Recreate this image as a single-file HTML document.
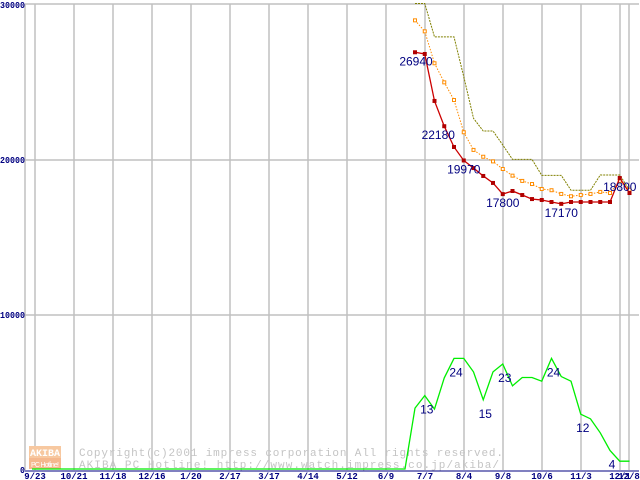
<!DOCTYPE html>
<html><head><meta charset="utf-8"><style>
html,body{margin:0;padding:0;background:#fff;}
svg{display:block;}
</style></head><body>
<svg id="chart" width="640" height="480" viewBox="0 0 640 480" xmlns="http://www.w3.org/2000/svg">
<g id="grid"></g>
<g id="watermark">
  <rect x="29" y="446" width="32" height="12" fill="#f7c8a0"/>
  <rect x="29" y="458" width="32" height="11" fill="#f5b88e"/>
  <text x="30" y="456" font-family="Liberation Mono, monospace" font-size="10" font-weight="bold" fill="#fff" textLength="30">AKIBA</text>
  <text x="31" y="467" font-family="Liberation Sans, sans-serif" font-size="7" fill="#fff" textLength="28">PC Hotline!</text>
  <text x="79" y="456" font-family="Liberation Mono, monospace" font-size="11" fill="#c4c4c4" textLength="424">Copyright(c)2001 impress corporation All rights reserved.</text>
  <text x="79" y="468" font-family="Liberation Mono, monospace" font-size="11" fill="#c4c4c4" textLength="420">AKIBA PC Hotline!  http://www.watch.impress.co.jp/akiba/</text>
</g>
<g id="series"></g>
<g id="axes"></g>
</svg>
<script>
const xLabels = ["9/23","10/21","11/18","12/16","1/20","2/17","3/17","4/14","5/12","6/9","7/7","8/4","9/8","10/6","11/3","12/1","12/8"];
const yTicks = [0,10000,20000,30000];
const minPrice = [26950,26840,23810,22180,20840,19970,19480,18970,18520,17800,18000,17740,17480,17420,17290,17170,17290,17290,17290,17290,17290,18840,17870];
const avgPrice = [29010,28300,26240,25010,23870,21790,20650,20210,19910,19420,18990,18650,18450,18130,18050,17810,17660,17740,17810,17940,17870,18650,18080];
const maxPrice = [30100,30100,27940,27940,27940,25380,22690,21870,21870,20970,20040,20040,20040,19010,19010,19010,18050,18050,18050,19030,19030,19030,18060];
const shopCount = [13.3,16,13.1,19.8,24,24,21.1,15.1,21.1,22.8,18.1,19.9,19.9,19.1,24,20.1,19.1,12,11,8,4.2,1.9,1.9];
const priceLabels = [[0,"26940"],[3,"22180"],[5,"19970"],[9,"17800"],[15,"17170"],[21,"18800"]];
const countLabels = [[1,"13"],[4,"24"],[7,"15"],[9,"23"],[14,"24"],[17,"12"],[20,"4"]];

const NS="http://www.w3.org/2000/svg";
function mk(tag,attrs,parent){const e=document.createElementNS(NS,tag);for(const k in attrs)e.setAttribute(k,attrs[k]);parent.appendChild(e);return e;}
const grid=document.getElementById('grid'),series=document.getElementById('series'),axes=document.getElementById('axes');
const X0=25,X1=639,Y0=470,YT=4;
function yP(v){return Y0 - v*155/10000;}
function xLab(i){return i<16 ? 35+39*i : 629;}
function xW(i){return 415+9.75*i;}
function yC(c){return Y0 - c*4.65;}

let fr=mk('line',{x1:X0,y1:YT,x2:X1,y2:YT,stroke:'#c0c0c0','stroke-width':1.5},grid);


let lf=mk('line',{x1:X0,y1:YT,x2:X0,y2:Y0,stroke:'#c0c0c0','stroke-width':1.5},grid);


xLabels.forEach((l,i)=>{
  const gl=mk('line',{x1:xLab(i),y1:YT,x2:xLab(i),y2:Y0,stroke:'#c0c0c0','stroke-width':1.5},grid);
  
  
  const t=mk('text',{x:xLab(i),y:479,'text-anchor':'middle','font-family':'Liberation Mono, monospace','font-size':9,'font-weight':'bold',fill:'#000080'},axes);
  t.textContent=l;
  
  
});
yTicks.forEach(v=>{
  if(v>0&&v<30000){const gl=mk('line',{x1:X0,y1:yP(v),x2:X1,y2:yP(v),stroke:'#c0c0c0','stroke-width':1.5},grid);
  
  }
  const s=String(v);
  const w=s.length*5;
  const t=mk('text',{x:25-w,y:yP(v)+3,'font-family':'Liberation Mono, monospace','font-size':9,'font-weight':'bold',fill:'#000080',textLength:w,lengthAdjust:'spacingAndGlyphs'},axes);
  t.textContent=s;
  
  
});
const ax=mk('line',{x1:X0,y1:Y0+1,x2:X1,y2:Y0+1,stroke:'#000080','stroke-width':1},axes);



let gpts=[[32,469],[405,469]];
shopCount.forEach((c,i)=>gpts.push([xW(i),yC(c)]));
const gl=mk('polyline',{points:gpts.map(p=>p.join(',')).join(' '),fill:'none',stroke:'#00ee00','stroke-width':1.3},series);


countLabels.forEach(([i,s])=>{
  const t=mk('text',{x:xW(i)+2,y:yC(shopCount[i])+18,'text-anchor':'middle','font-family':'Liberation Sans, sans-serif','font-size':12,fill:'#000080'},series);
  t.textContent=s;
  
  
});

const mp=mk('polyline',{points:maxPrice.map((v,i)=>xW(i)+','+Math.max(yP(v),3)).join(' '),fill:'none',stroke:'#808000','stroke-width':1,'stroke-dasharray':'2,1'},series);



const ap=mk('polyline',{points:avgPrice.map((v,i)=>xW(i)+','+yP(v)).join(' '),fill:'none',stroke:'#ff8c00','stroke-width':1,'stroke-dasharray':'1.5,1.5'},series);


avgPrice.forEach((v,i)=>{
  const r=mk('rect',{x:xW(i)-1.5,y:yP(v)-1.5,width:3,height:3,fill:'#fff',stroke:'#ff8c00','stroke-width':1},series);
  
  
});

const rp=mk('polyline',{points:minPrice.map((v,i)=>xW(i)+','+yP(v)).join(' '),fill:'none',stroke:'#cc0000','stroke-width':1.3},series);


minPrice.forEach((v,i)=>{
  const r=mk('rect',{x:xW(i)-2,y:yP(v)-2,width:4,height:4,fill:'#b00000'},series);
  
  
});
priceLabels.forEach(([i,s])=>{
  const t=mk('text',{x:xW(i)+(i===0?1:i===3?-6:0),y:yP(minPrice[i])+13,'text-anchor':'middle','font-family':'Liberation Sans, sans-serif','font-size':12,fill:'#000080'},series);
  t.textContent=s;
  
  
});
</script>
</body></html>
